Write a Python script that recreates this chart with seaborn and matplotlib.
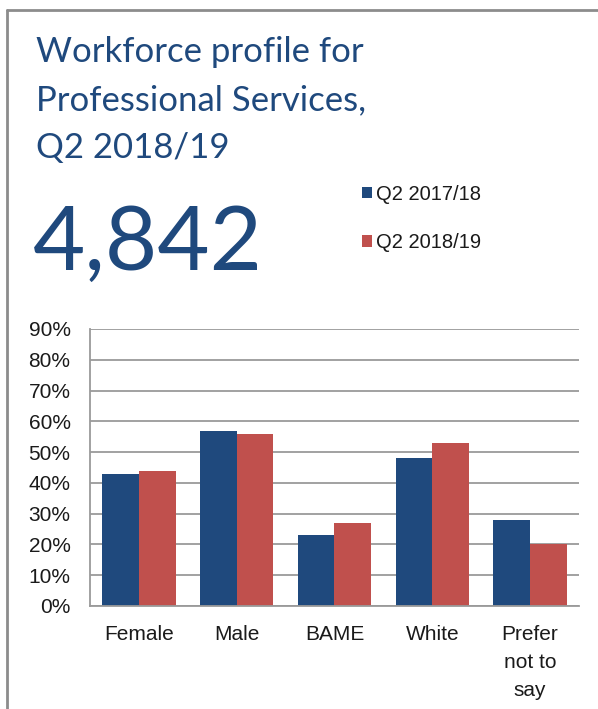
import pandas as pd
import matplotlib.pyplot as plt
import seaborn as sns
from matplotlib.lines import Line2D
from matplotlib.ticker import PercentFormatter

# Datos
categories = ["Female", "Male", "BAME", "White", "Prefer\nnot to\nsay"]
periods = ["Q2 2017/18", "Q2 2018/19"]
values_1718 = [43, 57, 23, 48, 28]
values_1819 = [44, 56, 27, 53, 20]
headcount = "4,842"
title_lines = ["Workforce profile for", "Professional Services,", "Q2 2018/19"]

df = pd.DataFrame({
    "Category": categories * 2,
    "Period": [periods[0]] * 5 + [periods[1]] * 5,
    "Value": values_1718 + values_1819,
})

sns.set_style("white")
plt.rcParams["font.family"] = ["Liberation Sans", "DejaVu Sans"]

navy = "#1F497D"
red = "#C0504D"
grey = "#9a9a9a"

fig = plt.figure(figsize=(5.98, 7.09), dpi=100)
ax = fig.add_axes([0.1505, 0.1453, 0.8177, 0.3907])

sns.barplot(data=df, x="Category", y="Value", hue="Period",
            palette=[navy, red], saturation=1, width=0.75, linewidth=0, ax=ax)

ax.set_ylim(0, 90)
ax.set_xlim(-0.5, 4.5)
ax.set_yticks(range(0, 91, 10))
ax.yaxis.set_major_formatter(PercentFormatter(decimals=0))
ax.yaxis.grid(True, color=grey, linewidth=1.3)
ax.set_axisbelow(True)
ax.set_xlabel("")
ax.set_ylabel("")
ax.tick_params(axis="y", labelsize=15, pad=14, colors="#1a1a1a", length=0)
ax.tick_params(axis="x", labelsize=15, pad=14, colors="#1a1a1a", length=0)
for t in ax.get_xticklabels():
    t.set_linespacing(1.6)
for s in ["top", "right"]:
    ax.spines[s].set_visible(False)
for s in ["left", "bottom"]:
    ax.spines[s].set_color(grey)
    ax.spines[s].set_linewidth(1.3)

handles, labels = ax.get_legend_handles_labels()
ax.legend_.remove()
fig.legend(handles, labels, loc="upper left", bbox_to_anchor=(0.575, 0.765),
           frameon=False, fontsize=14.5, handlelength=0.5, handleheight=0.5,
           handletextpad=0.2, labelspacing=1.45, labelcolor="#1a1a1a")

# Títulos
for i, line in enumerate(title_lines):
    fig.text(0.06, 1 - (62 + 48 * i) / 709, line, fontsize=25, color=navy,
             family="Lato", va="baseline")
fig.text(0.055, 1 - 270 / 709, headcount, fontsize=65, color=navy,
         family="Lato", va="baseline")

# Marco
fig.add_artist(Line2D([0.012, 0.012], [0, 0.986], color="#8c8c8c", linewidth=2))
fig.add_artist(Line2D([0.012, 1.0], [0.986, 0.986], color="#8c8c8c", linewidth=2))

plt.savefig("out.png", dpi=100)
